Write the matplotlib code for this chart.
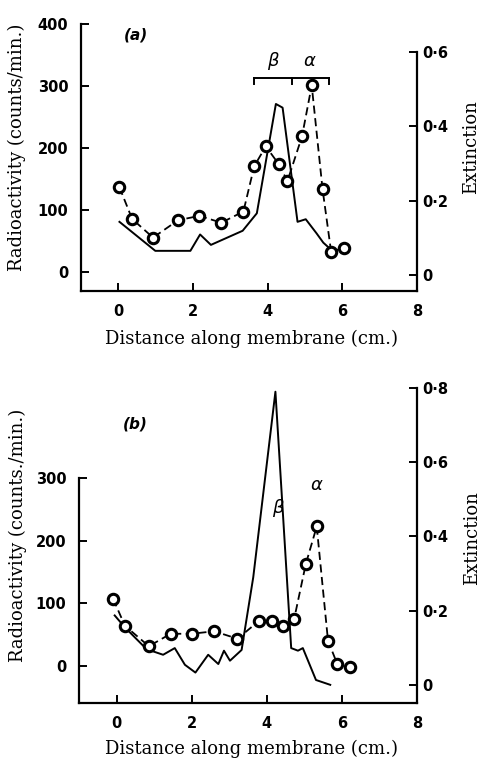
import numpy as np
import matplotlib.pyplot as plt

# ---- panel (a) data ----
a_circ_x = [0.03, 0.37, 0.93, 1.6, 2.17, 2.76, 3.35, 3.64, 3.95, 4.3, 4.53, 4.92, 5.18, 5.47, 5.7, 6.05]
a_circ_y = [137, 86, 56, 84, 91, 80, 98, 171, 203, 174, 147, 219, 301, 134, 33, 40]
a_ext_x = [0.03, 0.99, 1.93, 2.19, 2.48, 3.33, 3.71, 4.22, 4.4, 4.8, 5.02, 5.31, 5.49, 5.71]
a_ext_y = [0.143, 0.065, 0.065, 0.109, 0.081, 0.119, 0.166, 0.46, 0.45, 0.143, 0.15, 0.112, 0.087, 0.067]
a_bracket_x = [3.64, 4.66, 5.64]

# ---- panel (b) data ----
b_circ_x = [-0.09, 0.22, 0.86, 1.44, 2.0, 2.6, 3.22, 3.8, 4.13, 4.42, 4.73, 5.04, 5.33, 5.63, 5.88, 6.22]
b_circ_y = [107, 64, 31, 51, 51, 55, 43, 72, 71, 63, 75, 163, 223, 40, 2, -2]
b_ext_x = [-0.05, 0.22, 0.8, 1.24, 1.55, 1.82, 2.1, 2.44, 2.71, 2.86, 3.02, 3.33, 3.64, 4.23,
           4.65, 4.83, 4.96, 5.31, 5.69]
b_ext_y = [0.187, 0.155, 0.096, 0.081, 0.099, 0.054, 0.033, 0.081, 0.056, 0.092, 0.065, 0.094,
           0.29, 0.79, 0.099, 0.092, 0.099, 0.013, 0.0]

x_ticks = [0, 2, 4, 6, 8]

W, H = 484, 759
fig = plt.figure(figsize=(W / 100, H / 100), dpi=100)
fig.patch.set_facecolor('white')

serif = 'DejaVu Serif'
tick_font = dict(family='DejaVu Sans', weight='bold', size=10.5)


def box(l, r, t, b):
    return [l / W, 1 - b / H, (r - l) / W, (b - t) / H]


def setup(ax, ax2, ylim, yticks, ylim2, yticks2, ytick2labels, ylabel, lab_xy, rlab_xy, xlab_xy):
    ax.set_xlim(-1, 8)
    ax.set_ylim(*ylim)
    ax2.set_ylim(*ylim2)
    for a in (ax, ax2):
        a.spines['top'].set_visible(False)
        for s in a.spines.values():
            s.set_linewidth(1.6)
    ax.spines['right'].set_visible(False)
    ax2.spines['left'].set_visible(False)
    ax2.spines['bottom'].set_visible(False)
    ax.spines['left'].set_bounds(ylim[0], yticks[-1])
    ax2.spines['right'].set_bounds(ylim2[0], yticks2[-1])
    ax.set_xticks(x_ticks)
    ax.set_yticks(yticks)
    ax2.set_yticks(yticks2)
    ax2.set_yticklabels(ytick2labels)
    ax.tick_params(direction='in', length=6, width=1.4, pad=9)
    ax2.tick_params(direction='in', length=6, width=1.4, pad=4)
    for lab in ax.get_xticklabels() + ax.get_yticklabels() + ax2.get_yticklabels():
        lab.set_fontproperties(tick_font)
    ax.set_ylabel(ylabel, family=serif, fontsize=13)
    ax.yaxis.set_label_coords(*lab_xy)
    ax2.set_ylabel('Extinction', family=serif, fontsize=13, rotation=90)
    ax2.yaxis.set_label_coords(*rlab_xy)
    ax.set_xlabel('Distance along membrane (cm.)', family=serif, fontsize=13)
    ax.xaxis.set_label_coords(*xlab_xy)


circ_style = dict(color='black', linestyle=(0, (4.5, 2.5)), linewidth=1.3, marker='o',
                  markersize=7.5, markerfacecolor='white', markeredgecolor='black',
                  markeredgewidth=2.2, zorder=3)

# ---- panel (a) ----
ax = fig.add_axes(box(81, 417, 24, 291))
ax2 = ax.twinx()
ax.set_zorder(ax2.get_zorder() + 1)
ax.patch.set_visible(False)
ax2.plot(a_ext_x, a_ext_y, color='black', linewidth=1.4)
ax.plot(a_circ_x, a_circ_y, **circ_style)
setup(ax, ax2, (-30, 400), [0, 100, 200, 300, 400], (-0.043, 0.675), [0, 0.2, 0.4, 0.6],
      ['0', '0·2', '0·4', '0·6'], 'Radioactivity (counts/min.)',
      (-0.165, 0.54), (1.135, 0.54), (0.506, -0.146))
ax.plot([a_bracket_x[0], a_bracket_x[-1]], [313, 313], color='black', linewidth=1.4)
for bx in a_bracket_x:
    ax.plot([bx, bx], [313, 304], color='black', linewidth=1.4)
ax.text(4.15, 340, r'$\beta$', fontsize=13, ha='center', va='center')
ax.text(5.13, 340, r'$\alpha$', fontsize=13, ha='center', va='center')
ax.text(0.48, 382, '(a)', fontsize=11, style='italic', weight='bold', ha='center', va='center')

# ---- panel (b) ----
bx_ = fig.add_axes(box(79, 417, 388, 703))
bx2 = bx_.twinx()
bx_.set_zorder(bx2.get_zorder() + 1)
bx_.patch.set_visible(False)
bx2.plot(b_ext_x, b_ext_y, color='black', linewidth=1.4)
bx_.plot(b_circ_x, b_circ_y, **circ_style)
setup(bx_, bx2, (-60, 445), [0, 100, 200, 300], (-0.049, 0.8), [0, 0.2, 0.4, 0.6, 0.8],
      ['0', '0·2', '0·4', '0·6', '0·8'], 'Radioactivity (counts./min.)',
      (-0.155, 0.533), (1.135, 0.524), (0.509, -0.117))
bx_.text(4.31, 252, r'$\beta$', fontsize=13, ha='center', va='center')
bx_.text(5.33, 290, r'$\alpha$', fontsize=13, ha='center', va='center')
bx_.text(0.49, 388, '(b)', fontsize=11, style='italic', weight='bold', ha='center', va='center')

fig.savefig('out.png', dpi=100, facecolor='white')
